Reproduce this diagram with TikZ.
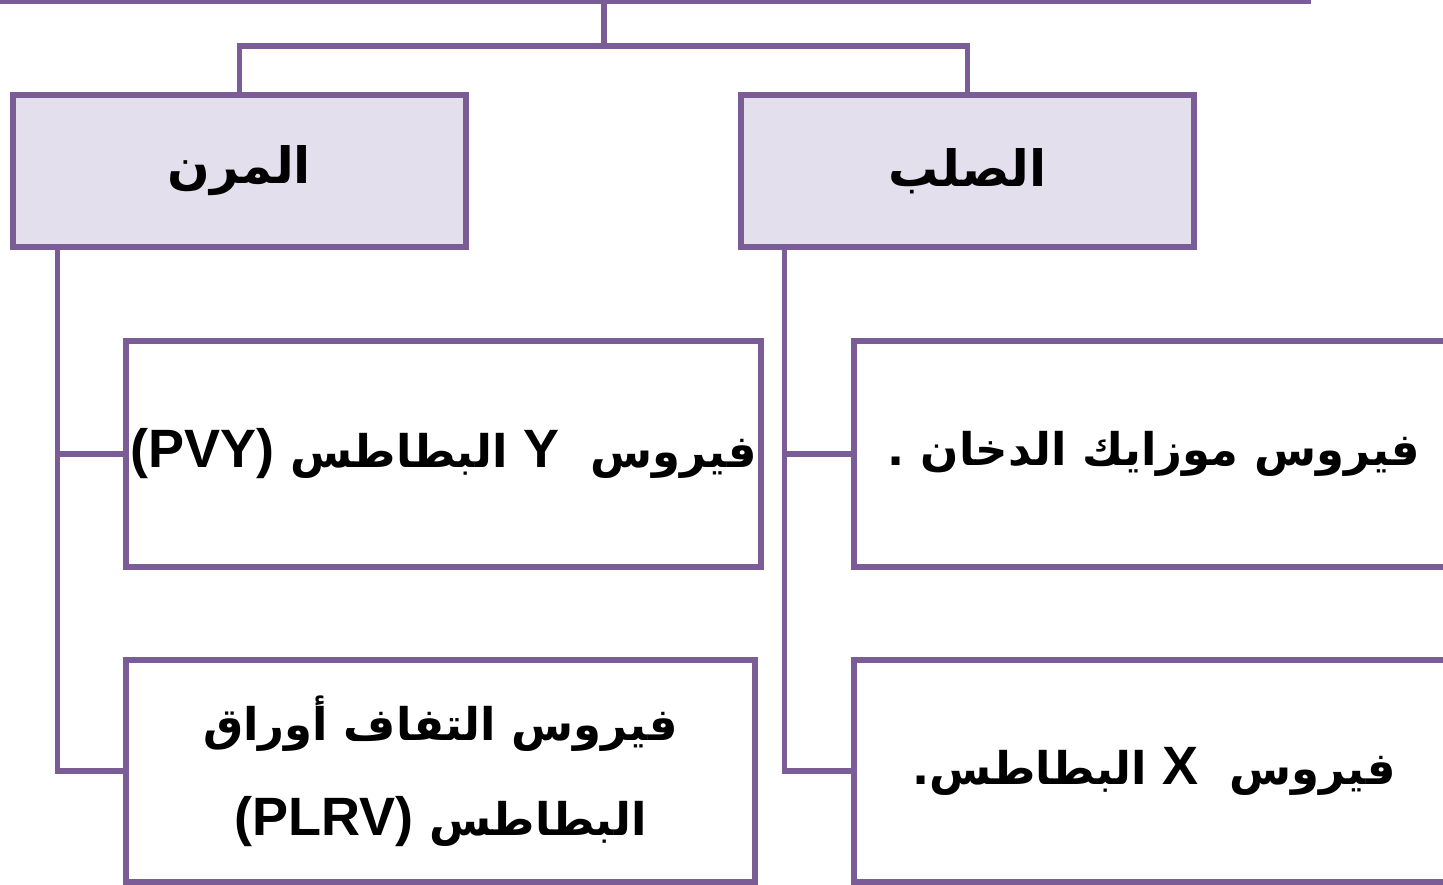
\documentclass[tikz,border=0pt]{standalone}
\usepackage{fontspec}
\newfontfamily\arabicfont[Script=Arabic]{DejaVu Sans}
\newfontfamily\latinfont{Liberation Sans Bold}
\TeXXeTstate=1
\definecolor{boxline}{HTML}{7A5C96}
\definecolor{boxfill}{HTML}{E4DFEC}
\tikzset{
  catbox/.style={draw=boxline, line width=5.5pt, fill=boxfill, minimum width=453pt, minimum height=152pt, inner sep=0pt, font=\fontsize{50}{60}\selectfont},
  virbox/.style={draw=boxline, line width=5.5pt, fill=white, minimum width=635pt, minimum height=226pt, inner sep=0pt, align=center},
  link/.style={draw=boxline, line width=5.5pt},
}
\newcommand{\artext}[1]{{\arabicfont\bfseries\beginR #1\endR}}
\newcommand{\lat}[1]{\beginL{\latinfont\fontsize{54}{95}\selectfont #1}\endL}
\begin{document}
\begin{tikzpicture}[x=1pt, y=-1pt, font=\fontsize{45}{95}\selectfont]
\useasboundingbox (0,0) rectangle (1443,885);
\clip (0,0) rectangle (1443,885);
% root box, mostly above the page
\node[catbox, minimum width=1316pt] (root) at (650,-75) {};
\node[catbox] (flex) at (239.5,171) {\artext{المرن}};
\node[catbox] (rigid) at (967.5,171) {\artext{الصلب}};
% flexible viruses
\node[virbox] (pvy) at (443.5,454) {\artext{فيروس \ \lat{Y} البطاطس \lat{(PVY)}}};
\node[virbox, minimum width=629pt, minimum height=222pt] (plrv) at (440.5,771)
  {\artext{فيروس التفاف أوراق}\\ \artext{البطاطس \lat{(PLRV)}}};
% rigid viruses
\node[virbox, minimum width=600pt] (tmv) at (1154,454) {\artext{فيروس موزايك الدخان .}};
\node[virbox, minimum width=600pt, minimum height=222pt] (pvx) at (1154,771) {\artext{فيروس \ \lat{X} البطاطس{}.}};
% connectors
\coordinate (hub) at (604,46);
\draw[link] (root.south -| hub) -- (hub);
\draw[link] (hub) -| (flex.north);
\draw[link] (hub) -| (rigid.north);
\draw[link] ([xshift=47pt]flex.south west) |- (pvy.west);
\draw[link] ([xshift=47pt]flex.south west) |- (plrv.west);
\draw[link] ([xshift=46pt]rigid.south west) |- (tmv.west);
\draw[link] ([xshift=46pt]rigid.south west) |- (pvx.west);
\end{tikzpicture}
\end{document}
